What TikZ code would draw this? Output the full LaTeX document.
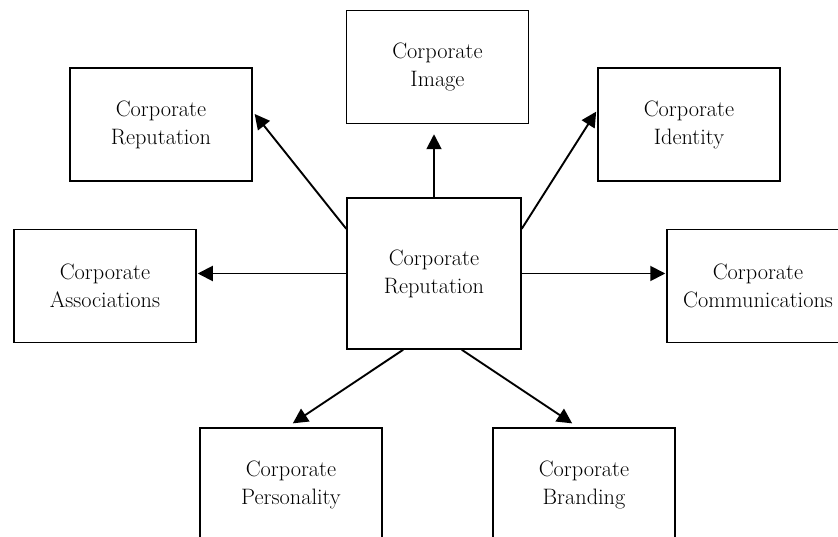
\documentclass[tikz,border=0pt]{standalone}
\usetikzlibrary{arrows.meta}
\begin{document}
\begin{tikzpicture}[x=1pt,y=-1pt,
  box/.style={draw, line width=1.5pt, rectangle, inner sep=0pt,
    minimum width=182pt, minimum height=113pt, align=center,
    font=\fontsize{22.3}{28}\selectfont},
  link/.style={line width=1.9pt, -{Triangle[length=15pt,width=15pt]}}]
\useasboundingbox (0,0) rectangle (838,537);

% hub
\node[box, minimum width=174pt, minimum height=151pt] (c) at (434,273.5) {Corporate\\Reputation};

% surrounding concepts
\node[box] (rep)  at (161,124.5) {Corporate\\Reputation};
\node[box] (img)  at (437.5,67)  {Corporate\\Image};
\node[box] (idn)  at (689,124.5) {Corporate\\Identity};
\node[box] (asc)  at (105,286)   {Corporate\\Associations};
\node[box] (com)  at (758,286)   {Corporate\\Communications};
\node[box] (per)  at (291,484.5) {Corporate\\Personality};
\node[box] (brd)  at (584,484.5) {Corporate\\Branding};

% connectors from the hub
\draw[link, shorten >=3pt] (c.153) -- (rep.8);
\draw[link, shorten >=10pt] (c.north) -- (c.north |- img.south);
\draw[link, shorten >=2pt] (c.27) -- (idn.171);
\draw[link, shorten >=1pt] (c.west) -- (c.west -| asc.east);
\draw[link, shorten >=1pt] (c.east) -- (c.east -| com.west);
\draw[link, shorten >=7pt] (c.248) -- (per.94);
\draw[link, shorten >=7pt] (c.290) -- (brd.96);
\end{tikzpicture}
\end{document}
